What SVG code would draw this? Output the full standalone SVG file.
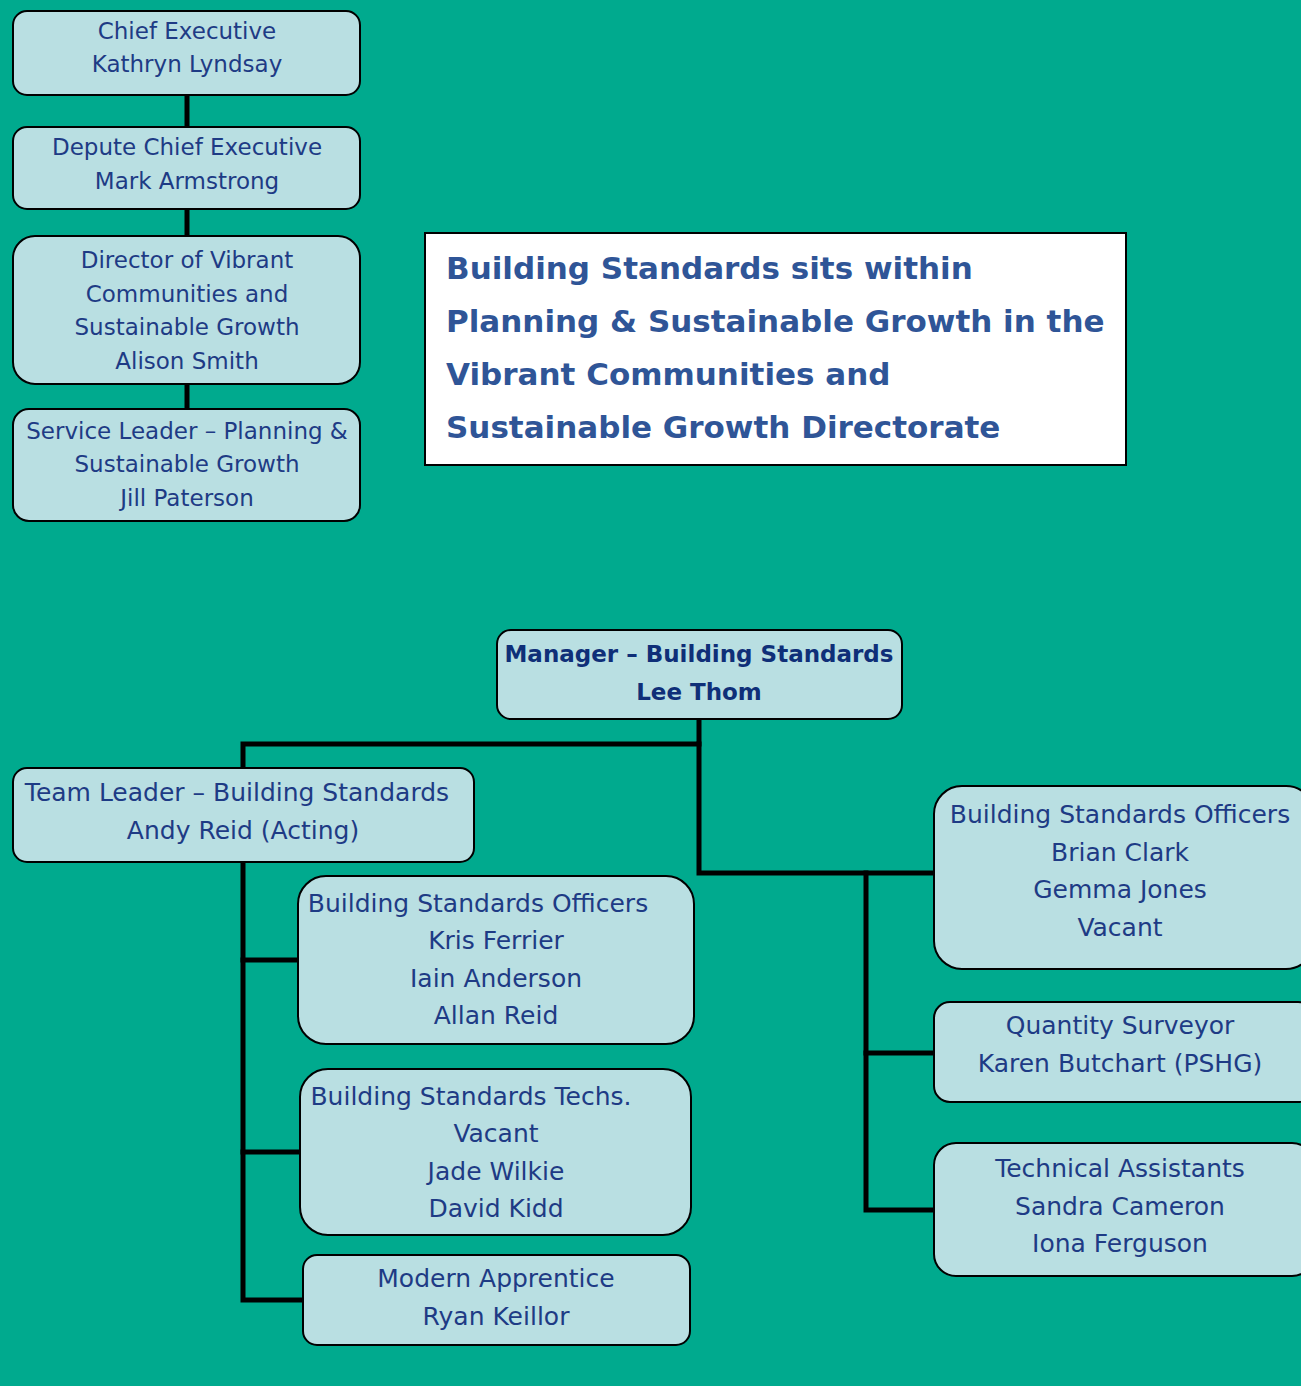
<svg xmlns="http://www.w3.org/2000/svg" width="1301" height="1386" viewBox="0 0 1301 1386">
<style>
.box{fill:#B9DFE2;stroke:#000;stroke-width:2}
.t{font-family:"DejaVu Sans",sans-serif;fill:#1E3B85;text-anchor:middle}
.s23{font-size:23px}
.s25{font-size:25px}
.b{font-family:"DejaVu Sans",sans-serif;font-weight:bold;fill:#0F2F78;text-anchor:middle;font-size:23px}
.title{font-family:"DejaVu Sans",sans-serif;font-weight:bold;fill:#2F5597;font-size:31px}
.c{stroke:#000;stroke-width:5;fill:none;stroke-linecap:square}
</style>
<rect x="0" y="0" width="1301" height="1386" fill="#00AA8E"/>
<g id="connectors">
<line class="c" x1="187" y1="95" x2="187" y2="127"/>
<line class="c" x1="187" y1="209" x2="187" y2="236"/>
<line class="c" x1="187" y1="384" x2="187" y2="409"/>
<polyline class="c" points="699,719 699,744 243,744 243,768"/>
<polyline class="c" points="699,744 699,873 934,873"/>
<polyline class="c" points="866,873 866,1210 934,1210"/>
<line class="c" x1="866" y1="1053" x2="934" y2="1053"/>
<polyline class="c" points="243,862 243,1300 303,1300"/>
<line class="c" x1="243" y1="960" x2="298" y2="960"/>
<line class="c" x1="243" y1="1152" x2="300" y2="1152"/>
</g>
<g id="chief-exec">
<rect class="box" x="13" y="11" width="347" height="84" rx="14"/>
<text class="t s23" x="187" y="39">Chief Executive</text>
<text class="t s23" x="187" y="72">Kathryn Lyndsay</text>
</g>
<g id="depute-chief">
<rect class="box" x="13" y="127" width="347" height="82" rx="14"/>
<text class="t s23" x="187" y="155">Depute Chief Executive</text>
<text class="t s23" x="187" y="189">Mark Armstrong</text>
</g>
<g id="director">
<rect class="box" x="13" y="236" width="347" height="148" rx="22"/>
<text class="t s23" x="187" y="268">Director of Vibrant</text>
<text class="t s23" x="187" y="302">Communities and</text>
<text class="t s23" x="187" y="335">Sustainable Growth</text>
<text class="t s23" x="187" y="369">Alison Smith</text>
</g>
<g id="service-leader">
<rect class="box" x="13" y="409" width="347" height="112" rx="16"/>
<text class="t s23" x="187" y="439">Service Leader – Planning &amp;</text>
<text class="t s23" x="187" y="472">Sustainable Growth</text>
<text class="t s23" x="187" y="506">Jill Paterson</text>
</g>
<g id="info-box">
<rect x="425" y="233" width="701" height="232" fill="#FFFFFF" stroke="#000" stroke-width="2"/>
<text class="title" x="446" y="279">Building Standards sits within</text>
<text class="title" x="446" y="332">Planning &amp; Sustainable Growth in the</text>
<text class="title" x="446" y="385">Vibrant Communities and</text>
<text class="title" x="446" y="438">Sustainable Growth Directorate</text>
</g>
<g id="manager">
<rect class="box" x="497" y="630" width="405" height="89" rx="14"/>
<text class="b" x="699" y="662">Manager – Building Standards</text>
<text class="b" x="699" y="700">Lee Thom</text>
</g>
<g id="team-leader">
<rect class="box" x="13" y="768" width="461" height="94" rx="14"/>
<text class="t s25" x="237" y="801">Team Leader – Building Standards</text>
<text class="t s25" x="243" y="839">Andy Reid (Acting)</text>
</g>
<g id="bso-left">
<rect class="box" x="298" y="876" width="396" height="168" rx="28"/>
<text class="t s25" x="478" y="912">Building Standards Officers</text>
<text class="t s25" x="496" y="949">Kris Ferrier</text>
<text class="t s25" x="496" y="987">Iain Anderson</text>
<text class="t s25" x="496" y="1024">Allan Reid</text>
</g>
<g id="techs">
<rect class="box" x="300" y="1069" width="391" height="166" rx="28"/>
<text class="t s25" x="471" y="1105">Building Standards Techs.</text>
<text class="t s25" x="496" y="1142">Vacant</text>
<text class="t s25" x="496" y="1180">Jade Wilkie</text>
<text class="t s25" x="496" y="1217">David Kidd</text>
</g>
<g id="apprentice">
<rect class="box" x="303" y="1255" width="387" height="90" rx="14"/>
<text class="t s25" x="496" y="1287">Modern Apprentice</text>
<text class="t s25" x="496" y="1325">Ryan Keillor</text>
</g>
<g id="bso-right">
<rect class="box" x="934" y="786" width="380" height="183" rx="28"/>
<text class="t s25" x="1120" y="823">Building Standards Officers</text>
<text class="t s25" x="1120" y="861">Brian Clark</text>
<text class="t s25" x="1120" y="898">Gemma Jones</text>
<text class="t s25" x="1120" y="936">Vacant</text>
</g>
<g id="quantity-surveyor">
<rect class="box" x="934" y="1002" width="380" height="100" rx="16"/>
<text class="t s25" x="1120" y="1034">Quantity Surveyor</text>
<text class="t s25" x="1120" y="1072">Karen Butchart (PSHG)</text>
</g>
<g id="tech-assistants">
<rect class="box" x="934" y="1143" width="380" height="133" rx="22"/>
<text class="t s25" x="1120" y="1177">Technical Assistants</text>
<text class="t s25" x="1120" y="1215">Sandra Cameron</text>
<text class="t s25" x="1120" y="1252">Iona Ferguson</text>
</g>
</svg>
